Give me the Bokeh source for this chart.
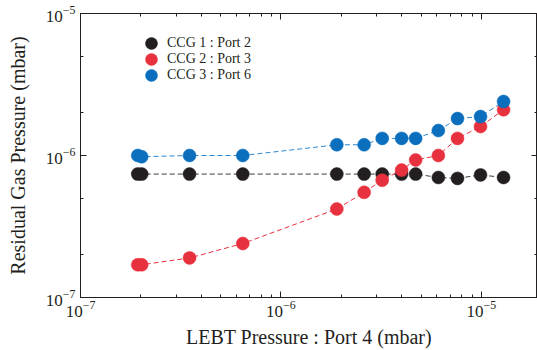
from bokeh.plotting import figure
from bokeh.models import Range1d, LogAxis, FixedTicker, Legend, LegendItem, CustomJSTickFormatter
from bokeh.embed import file_html
from bokeh.resources import INLINE

# LEBT pressure at port 4 (mbar)
x_lebt = [1.93e-7, 2.02e-7, 3.5e-7, 6.45e-7, 1.9e-6, 2.6e-6, 3.2e-6, 4.0e-6, 4.7e-6, 6.1e-6, 7.6e-6, 9.9e-6, 1.29e-5]
# residual gas pressures (mbar)
ccg1 = [7.4e-7, 7.4e-7, 7.4e-7, 7.4e-7, 7.4e-7, 7.4e-7, 7.4e-7, 7.4e-7, 7.4e-7, 7.0e-7, 6.9e-7, 7.3e-7, 7.0e-7]
ccg2 = [1.7e-7, 1.7e-7, 1.9e-7, 2.4e-7, 4.2e-7, 5.5e-7, 6.7e-7, 7.9e-7, 9.3e-7, 1.0e-6, 1.32e-6, 1.6e-6, 2.1e-6]
ccg3 = [1.0e-6, 0.98e-6, 1.0e-6, 1.0e-6, 1.19e-6, 1.19e-6, 1.32e-6, 1.32e-6, 1.32e-6, 1.5e-6, 1.82e-6, 1.88e-6, 2.4e-6]
labels = ["CCG 1 : Port 2", "CCG 2 : Port 3", "CCG 3 : Port 6"]

x_major = [1e-7, 1e-6, 1e-5]
x_minor = [m * d for d in (1e-7, 1e-6, 1e-5) for m in range(2, 10)]
y_major = [1e-7, 1e-6, 1e-5]
y_minor = [2e-7, 5e-7, 2e-6, 5e-6]

FONT = "Liberation Serif"
INK = "#231f20"

p = figure(width=537, height=350, x_axis_type="log", y_axis_type="log",
           x_range=Range1d(1e-7, 1.905e-5), y_range=Range1d(1e-7, 1e-5),
           output_backend="svg", toolbar_location=None,
           min_border_left=80, min_border_right=0, min_border_top=13, min_border_bottom=53)
p.grid.visible = False
p.outline_line_color = INK
p.background_fill_color = "white"

xt = FixedTicker(ticks=x_major, minor_ticks=x_minor)
yt = FixedTicker(ticks=y_major, minor_ticks=y_minor)

for ax, t in ((p.xaxis[0], xt), (p.yaxis[0], yt)):
    ax.ticker = t
    ax.major_tick_in = 6
    ax.major_tick_out = 0
    ax.minor_tick_in = 3
    ax.minor_tick_out = 0
    ax.major_label_text_font = FONT
    ax.major_label_text_font_size = "17px"
    ax.major_label_text_color = INK
    ax.axis_label_text_font = FONT
    ax.axis_label_text_font_size = "20px"
    ax.axis_label_text_font_style = "normal"
    ax.axis_label_text_color = INK
    ax.axis_line_color = INK
    ax.major_tick_line_color = INK
    ax.minor_tick_line_color = INK

p.xaxis[0].axis_label = "LEBT Pressure : Port 4 (mbar)"
p.yaxis[0].axis_label = "Residual Gas Pressure (mbar)"
p.xaxis[0].major_label_standoff = 3
p.yaxis[0].major_label_standoff = 5
p.xaxis[0].axis_label_standoff = 6
p.yaxis[0].axis_label_standoff = 14

for loc, t in (("above", xt), ("right", yt)):
    ax = LogAxis(ticker=t, formatter=CustomJSTickFormatter(code="return ''"))
    ax.major_tick_in = 6
    ax.major_tick_out = 0
    ax.minor_tick_in = 3
    ax.minor_tick_out = 0
    ax.major_label_standoff = 0
    ax.major_label_text_font_size = "0px"
    ax.axis_line_color = INK
    ax.major_tick_line_color = INK
    ax.minor_tick_line_color = INK
    p.add_layout(ax, loc)

series = [
    (ccg1, INK, "#3a3a3a"),
    (ccg2, "#e8313e", "#e8313e"),
    (ccg3, "#0b6fbd", "#2f87cd"),
]
renderers = []
for ys, mc, lc in series:
    p.line(x_lebt, ys, line_color=lc, line_width=1, line_dash="5 3")
    r = p.scatter(x_lebt, ys, size=13, fill_color=mc, line_color=mc, line_width=0.5)
    renderers.append(r)

# one legend per entry so the rows can sit 16px apart
G = 30
for i, (r, lab) in enumerate(zip(renderers, labels)):
    cy = 43 + 16 * i
    vy = 297 - (cy - G // 2) - G
    lg = Legend(items=[LegendItem(label=lab, renderers=[r])], location=(151 - G // 2 - 80, vy),
                padding=0, spacing=0, margin=0,
                glyph_width=G, glyph_height=G, label_standoff=1,
                border_line_alpha=0, background_fill_alpha=0,
                label_text_font=FONT, label_text_font_size="14px", label_text_color=INK)
    p.add_layout(lg)

open("out.html", "w").write(file_html(p, INLINE))
